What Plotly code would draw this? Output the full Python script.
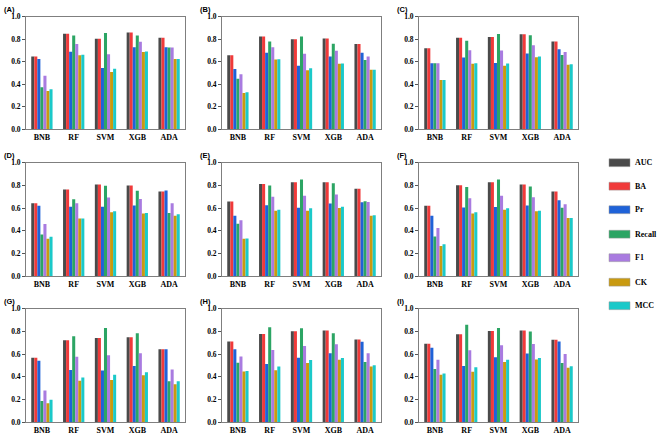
import plotly.graph_objects as go
from plotly.subplots import make_subplots

models = ["BNB", "RF", "SVM", "XGB", "ADA"]
metrics = ["AUC", "BA", "Pr", "Recall", "F1", "CK", "MCC"]
colors = ["#4a4a4a", "#f03a3a", "#1f62d8", "#2ca564", "#a97be0", "#c99a10", "#1bc9c9"]
panel_labels = ["(A)", "(B)", "(C)", "(D)", "(E)", "(F)", "(G)", "(H)", "(I)"]
y_ticks = [0.0, 0.2, 0.4, 0.6, 0.8, 1.0]

# values per panel: rows = metrics, columns = models (BNB, RF, SVM, XGB, ADA)
panel_A = {
    "AUC":    [0.648, 0.850, 0.804, 0.859, 0.813],
    "BA":     [0.648, 0.850, 0.804, 0.859, 0.813],
    "Pr":     [0.625, 0.690, 0.545, 0.729, 0.729],
    "Recall": [0.375, 0.833, 0.856, 0.833, 0.726],
    "F1":     [0.475, 0.758, 0.666, 0.778, 0.726],
    "CK":     [0.340, 0.657, 0.510, 0.686, 0.625],
    "MCC":    [0.357, 0.663, 0.539, 0.692, 0.625],
}
panel_B = {
    "AUC":    [0.657, 0.824, 0.801, 0.807, 0.758],
    "BA":     [0.657, 0.824, 0.801, 0.807, 0.758],
    "Pr":     [0.536, 0.680, 0.565, 0.648, 0.680],
    "Recall": [0.450, 0.781, 0.824, 0.761, 0.617],
    "F1":     [0.490, 0.729, 0.671, 0.697, 0.648],
    "CK":     [0.323, 0.620, 0.524, 0.582, 0.530],
    "MCC":    [0.329, 0.622, 0.542, 0.585, 0.530],
}
panel_C = {
    "AUC":    [0.720, 0.813, 0.821, 0.844, 0.781],
    "BA":     [0.720, 0.813, 0.821, 0.844, 0.781],
    "Pr":     [0.588, 0.637, 0.590, 0.674, 0.712],
    "Recall": [0.588, 0.787, 0.847, 0.836, 0.660],
    "F1":     [0.588, 0.703, 0.700, 0.746, 0.686],
    "CK":     [0.438, 0.582, 0.565, 0.640, 0.573],
    "MCC":    [0.438, 0.588, 0.585, 0.648, 0.579],
}
panel_D = {
    "AUC":    [0.644, 0.764, 0.807, 0.799, 0.747],
    "BA":     [0.644, 0.764, 0.807, 0.799, 0.747],
    "Pr":     [0.620, 0.612, 0.612, 0.624, 0.756],
    "Recall": [0.368, 0.678, 0.796, 0.753, 0.557],
    "F1":     [0.460, 0.644, 0.693, 0.681, 0.644],
    "CK":     [0.330, 0.509, 0.563, 0.552, 0.534],
    "MCC":    [0.348, 0.509, 0.572, 0.557, 0.546],
}
panel_E = {
    "AUC":    [0.658, 0.813, 0.828, 0.828, 0.770],
    "BA":     [0.658, 0.813, 0.828, 0.828, 0.770],
    "Pr":     [0.534, 0.626, 0.603, 0.641, 0.652],
    "Recall": [0.463, 0.799, 0.853, 0.819, 0.661],
    "F1":     [0.494, 0.701, 0.710, 0.721, 0.655],
    "CK":     [0.330, 0.578, 0.578, 0.601, 0.534],
    "MCC":    [0.333, 0.586, 0.598, 0.612, 0.537],
}
panel_F = {
    "AUC":    [0.621, 0.802, 0.828, 0.807, 0.747],
    "BA":     [0.621, 0.802, 0.828, 0.807, 0.747],
    "Pr":     [0.534, 0.606, 0.609, 0.624, 0.670],
    "Recall": [0.351, 0.787, 0.853, 0.790, 0.603],
    "F1":     [0.425, 0.687, 0.710, 0.695, 0.635],
    "CK":     [0.267, 0.552, 0.586, 0.572, 0.514],
    "MCC":    [0.282, 0.563, 0.600, 0.578, 0.514],
}
panel_G = {
    "AUC":    [0.568, 0.723, 0.741, 0.749, 0.643],
    "BA":     [0.568, 0.723, 0.741, 0.749, 0.643],
    "Pr":     [0.542, 0.461, 0.455, 0.496, 0.643],
    "Recall": [0.187, 0.758, 0.830, 0.784, 0.360],
    "F1":     [0.280, 0.576, 0.591, 0.608, 0.464],
    "CK":     [0.167, 0.366, 0.372, 0.415, 0.334],
    "MCC":    [0.199, 0.395, 0.418, 0.441, 0.360],
}
panel_H = {
    "AUC":    [0.712, 0.778, 0.801, 0.807, 0.729],
    "BA":     [0.712, 0.778, 0.801, 0.807, 0.729],
    "Pr":     [0.643, 0.513, 0.568, 0.608, 0.709],
    "Recall": [0.524, 0.836, 0.827, 0.784, 0.530],
    "F1":     [0.579, 0.637, 0.671, 0.686, 0.608],
    "CK":     [0.447, 0.458, 0.522, 0.550, 0.490],
    "MCC":    [0.452, 0.490, 0.548, 0.565, 0.501],
}
panel_I = {
    "AUC":    [0.692, 0.775, 0.804, 0.807, 0.726],
    "BA":     [0.692, 0.775, 0.804, 0.807, 0.726],
    "Pr":     [0.657, 0.496, 0.573, 0.605, 0.712],
    "Recall": [0.470, 0.859, 0.830, 0.798, 0.522],
    "F1":     [0.550, 0.634, 0.677, 0.689, 0.602],
    "CK":     [0.418, 0.444, 0.530, 0.553, 0.481],
    "MCC":    [0.429, 0.484, 0.550, 0.565, 0.493],
}
panels = [panel_A, panel_B, panel_C, panel_D, panel_E, panel_F, panel_G, panel_H, panel_I]

W, H = 661, 441
col_px = [(26, 185), (222, 381), (419, 578)]
row_px = [(13, 128), (162, 278), (311, 427)]

fig = make_subplots(rows=3, cols=3)
for i, pdata in enumerate(panels):
    r, c = i // 3 + 1, i % 3 + 1
    for m, col in zip(metrics, colors):
        fig.add_trace(go.Bar(x=models, y=pdata[m], name=m, marker_color=col,
                             marker_line_width=0, showlegend=False), row=r, col=c)

for i in range(9):
    r, c = i // 3, i % 3
    xa = "xaxis" if i == 0 else f"xaxis{i+1}"
    ya = "yaxis" if i == 0 else f"yaxis{i+1}"
    x0, x1 = col_px[c]
    y0, y1 = row_px[r]
    fig.layout[xa].update(domain=[x0 / W, x1 / W], showline=True, mirror=True,
                          linecolor="#7f7f7f", linewidth=1, showgrid=False,
                          ticks="", tickfont=dict(family="Liberation Serif", size=8, color="#000", weight="bold"))
    fig.layout[ya].update(domain=[1 - y1 / H, 1 - y0 / H], range=[0, 1.0],
                          showline=True, mirror=True, linecolor="#7f7f7f", linewidth=1,
                          showgrid=False, zeroline=False, ticks="outside", ticklen=3,
                          tickcolor="#555", tickwidth=1,
                          tickvals=y_ticks, ticktext=[f"{v:.1f}" for v in y_ticks],
                          tickfont=dict(family="Liberation Serif", size=7.5, color="#000", weight="bold"))
    fig.add_annotation(text=f"<b>{panel_labels[i]}</b>", xref="paper", yref="paper",
                       x=(x0 - 24) / W, y=1 - (y0 - 7) / H, xanchor="left", yanchor="middle",
                       showarrow=False, font=dict(family="Liberation Sans", size=7.5, color="#000"))

# legend drawn as swatches + labels
leg_y = [162, 186, 210, 235, 259, 284, 308]
for m, col, yy in zip(metrics, colors, leg_y):
    fig.add_shape(type="rect", xref="paper", yref="paper",
                  x0=609 / W, x1=630 / W, y0=1 - (yy + 4) / H, y1=1 - (yy - 4) / H,
                  fillcolor=col, line=dict(width=0.5, color="#999"))
    fig.add_annotation(text=f"<b>{m}</b>", xref="paper", yref="paper",
                       x=633 / W, y=1 - yy / H, xanchor="left", yanchor="middle",
                       showarrow=False, font=dict(family="Liberation Serif", size=8, color="#000"))

fig.update_layout(width=W, height=H, margin=dict(l=0, r=0, t=0, b=0),
                  paper_bgcolor="white", plot_bgcolor="white",
                  barmode="group", bargap=0.33, bargroupgap=0, showlegend=False)

fig.write_html("out.html", config={"displayModeBar": False},
               post_script="document.body.style.margin='0px';document.body.style.overflow='hidden';")
